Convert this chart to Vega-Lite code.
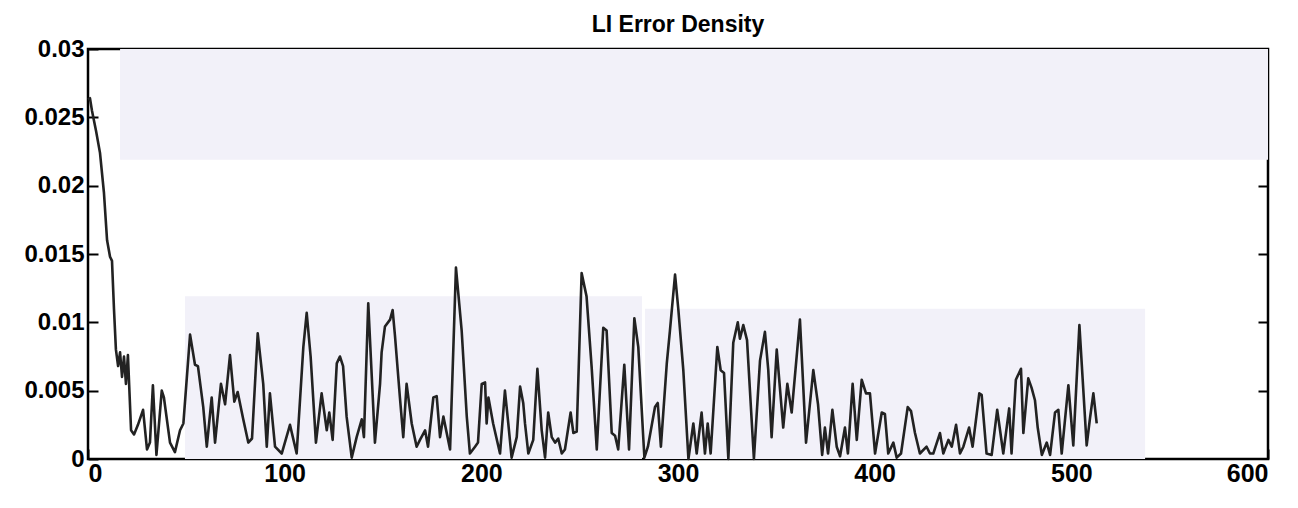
{
  "$schema": "https://vega.github.io/schema/vega-lite/v6.json",
  "width": 1180,
  "height": 410,
  "autosize": "none",
  "padding": {"left": 88, "top": 49, "right": 30, "bottom": 49},
  "background": "white",
  "title": {"text": "LI Error Density", "font": "Liberation Sans", "fontSize": 23, "fontWeight": "bold", "color": "black", "anchor": "middle", "offset": 0},
  "datasets": {
    "shade": [
      {"x0": 16.3, "x1": 600, "y0": 0.0219, "y1": 0.0302},
      {"x0": 49.3, "x1": 281.7, "y0": 0, "y1": 0.0119},
      {"x0": 283.2, "x1": 537.5, "y0": 0, "y1": 0.011}
    ],
    "curve": [
      {"t": 0.0, "err": 0.0263}, {"t": 1.0, "err": 0.0264}, {"t": 2.0, "err": 0.0255}, {"t": 4.1, "err": 0.024},
      {"t": 6.1, "err": 0.0224}, {"t": 8.1, "err": 0.0195}, {"t": 9.7, "err": 0.016}, {"t": 11.2, "err": 0.0148},
      {"t": 12.2, "err": 0.0145}, {"t": 13.2, "err": 0.011}, {"t": 14.2, "err": 0.008}, {"t": 15.3, "err": 0.0068},
      {"t": 16.3, "err": 0.0078}, {"t": 17.3, "err": 0.006}, {"t": 18.3, "err": 0.0075}, {"t": 19.3, "err": 0.0055},
      {"t": 20.3, "err": 0.0076}, {"t": 21.9, "err": 0.0021}, {"t": 23.4, "err": 0.0018}, {"t": 25.4, "err": 0.0025},
      {"t": 28.0, "err": 0.0036}, {"t": 30.0, "err": 0.0007}, {"t": 31.5, "err": 0.0012}, {"t": 33.0, "err": 0.0054},
      {"t": 34.8, "err": 0.0003}, {"t": 37.5, "err": 0.005}, {"t": 38.6, "err": 0.0045}, {"t": 41.7, "err": 0.0012},
      {"t": 44.2, "err": 0.0005}, {"t": 46.8, "err": 0.0021}, {"t": 48.5, "err": 0.0026}, {"t": 51.9, "err": 0.0091},
      {"t": 54.4, "err": 0.0069}, {"t": 55.9, "err": 0.0068}, {"t": 58.6, "err": 0.0038}, {"t": 60.4, "err": 0.0009},
      {"t": 62.9, "err": 0.0045}, {"t": 64.6, "err": 0.0012}, {"t": 67.6, "err": 0.0055}, {"t": 69.7, "err": 0.004},
      {"t": 72.2, "err": 0.0076}, {"t": 74.4, "err": 0.0042}, {"t": 76.1, "err": 0.0049}, {"t": 78.8, "err": 0.003},
      {"t": 81.5, "err": 0.0012}, {"t": 83.4, "err": 0.0015}, {"t": 86.3, "err": 0.0092}, {"t": 89.1, "err": 0.0055},
      {"t": 90.9, "err": 0.0009}, {"t": 92.5, "err": 0.0048}, {"t": 95.1, "err": 0.0009}, {"t": 98.5, "err": 0.0004},
      {"t": 102.7, "err": 0.0025}, {"t": 106.1, "err": 0.0004}, {"t": 109.5, "err": 0.0082}, {"t": 111.2, "err": 0.0107},
      {"t": 113.2, "err": 0.0075}, {"t": 115.9, "err": 0.0012}, {"t": 118.8, "err": 0.0048}, {"t": 121.4, "err": 0.0021},
      {"t": 122.7, "err": 0.0034}, {"t": 124.4, "err": 0.0014}, {"t": 126.5, "err": 0.007}, {"t": 128.1, "err": 0.0075},
      {"t": 129.7, "err": 0.0068}, {"t": 131.5, "err": 0.0031}, {"t": 134.1, "err": 0.0001}, {"t": 136.6, "err": 0.0016},
      {"t": 139.2, "err": 0.0029}, {"t": 140.3, "err": 0.0016}, {"t": 142.5, "err": 0.0114}, {"t": 145.9, "err": 0.0012},
      {"t": 148.5, "err": 0.0055}, {"t": 149.3, "err": 0.0078}, {"t": 151.0, "err": 0.0097}, {"t": 153.6, "err": 0.0102},
      {"t": 154.9, "err": 0.0109}, {"t": 156.1, "err": 0.009}, {"t": 158.6, "err": 0.0045}, {"t": 160.3, "err": 0.0016},
      {"t": 162.0, "err": 0.0055}, {"t": 164.6, "err": 0.0026}, {"t": 167.1, "err": 0.0009}, {"t": 168.8, "err": 0.0014},
      {"t": 171.4, "err": 0.0021}, {"t": 172.9, "err": 0.0009}, {"t": 175.6, "err": 0.0045}, {"t": 177.3, "err": 0.0046},
      {"t": 179.0, "err": 0.0016}, {"t": 180.7, "err": 0.0031}, {"t": 184.1, "err": 0.0007}, {"t": 187.1, "err": 0.014},
      {"t": 190.0, "err": 0.0094}, {"t": 192.6, "err": 0.0031}, {"t": 194.2, "err": 0.0004}, {"t": 196.8, "err": 0.0009},
      {"t": 198.3, "err": 0.0012}, {"t": 200.2, "err": 0.0055}, {"t": 201.9, "err": 0.0056}, {"t": 202.7, "err": 0.0026},
      {"t": 203.6, "err": 0.0045}, {"t": 206.0, "err": 0.0026}, {"t": 209.5, "err": 0.0004}, {"t": 212.0, "err": 0.005},
      {"t": 213.7, "err": 0.0026}, {"t": 215.4, "err": 0.0001}, {"t": 218.0, "err": 0.0016}, {"t": 219.7, "err": 0.0053},
      {"t": 221.3, "err": 0.0041}, {"t": 222.2, "err": 0.0026}, {"t": 223.9, "err": 0.0004}, {"t": 226.4, "err": 0.0014},
      {"t": 228.5, "err": 0.0066}, {"t": 230.7, "err": 0.0021}, {"t": 232.4, "err": 0.0001}, {"t": 234.0, "err": 0.0034},
      {"t": 235.8, "err": 0.0016}, {"t": 237.5, "err": 0.0012}, {"t": 239.1, "err": 0.0015}, {"t": 240.9, "err": 0.0004},
      {"t": 242.5, "err": 0.0007}, {"t": 245.4, "err": 0.0034}, {"t": 246.8, "err": 0.0019}, {"t": 248.5, "err": 0.002},
      {"t": 251.0, "err": 0.0136}, {"t": 253.5, "err": 0.0119}, {"t": 256.1, "err": 0.0067}, {"t": 258.7, "err": 0.0007},
      {"t": 262.0, "err": 0.0096}, {"t": 263.7, "err": 0.0094}, {"t": 266.3, "err": 0.0019}, {"t": 268.0, "err": 0.0017},
      {"t": 269.6, "err": 0.0007}, {"t": 272.7, "err": 0.0069}, {"t": 275.1, "err": 0.0007}, {"t": 277.8, "err": 0.0103},
      {"t": 279.8, "err": 0.0082}, {"t": 282.9, "err": 0.0001}, {"t": 284.7, "err": 0.0009}, {"t": 288.3, "err": 0.0038},
      {"t": 289.7, "err": 0.0041}, {"t": 291.3, "err": 0.0009}, {"t": 294.3, "err": 0.007}, {"t": 295.9, "err": 0.0094},
      {"t": 298.5, "err": 0.0135}, {"t": 300.2, "err": 0.0109}, {"t": 302.7, "err": 0.0065}, {"t": 305.3, "err": 0.0},
      {"t": 307.8, "err": 0.0026}, {"t": 309.5, "err": 0.0004}, {"t": 312.0, "err": 0.0034}, {"t": 313.7, "err": 0.0004},
      {"t": 315.1, "err": 0.0026}, {"t": 316.6, "err": 0.0004}, {"t": 320.0, "err": 0.0082}, {"t": 321.7, "err": 0.0065},
      {"t": 323.4, "err": 0.0063}, {"t": 325.6, "err": 0.0}, {"t": 328.1, "err": 0.0085}, {"t": 330.4, "err": 0.01},
      {"t": 331.5, "err": 0.0088}, {"t": 333.2, "err": 0.0098}, {"t": 335.1, "err": 0.0087}, {"t": 338.6, "err": 0.0},
      {"t": 341.7, "err": 0.0072}, {"t": 344.2, "err": 0.0093}, {"t": 345.9, "err": 0.0065}, {"t": 347.6, "err": 0.0016},
      {"t": 350.2, "err": 0.008}, {"t": 353.5, "err": 0.0023}, {"t": 355.6, "err": 0.0055}, {"t": 357.8, "err": 0.0034},
      {"t": 362.0, "err": 0.0102}, {"t": 365.1, "err": 0.0012}, {"t": 368.8, "err": 0.0065}, {"t": 371.2, "err": 0.004},
      {"t": 373.3, "err": 0.0003}, {"t": 374.7, "err": 0.0023}, {"t": 376.3, "err": 0.0004}, {"t": 378.5, "err": 0.0036},
      {"t": 380.7, "err": 0.0009}, {"t": 382.4, "err": 0.0002}, {"t": 384.9, "err": 0.0023}, {"t": 386.4, "err": 0.0004},
      {"t": 388.8, "err": 0.0055}, {"t": 390.9, "err": 0.0014}, {"t": 393.4, "err": 0.0058}, {"t": 395.6, "err": 0.0048},
      {"t": 397.6, "err": 0.0048}, {"t": 400.2, "err": 0.0004}, {"t": 403.6, "err": 0.0034}, {"t": 405.2, "err": 0.0033},
      {"t": 406.9, "err": 0.0004}, {"t": 409.5, "err": 0.0012}, {"t": 411.2, "err": 0.0001}, {"t": 413.4, "err": 0.0004},
      {"t": 416.8, "err": 0.0038}, {"t": 418.5, "err": 0.0035}, {"t": 420.5, "err": 0.0019}, {"t": 423.0, "err": 0.0004},
      {"t": 426.4, "err": 0.0009}, {"t": 428.1, "err": 0.0004}, {"t": 429.8, "err": 0.0004}, {"t": 433.2, "err": 0.0019},
      {"t": 434.9, "err": 0.0004}, {"t": 437.5, "err": 0.0014}, {"t": 439.2, "err": 0.0009}, {"t": 441.4, "err": 0.0025},
      {"t": 443.4, "err": 0.0004}, {"t": 445.1, "err": 0.0009}, {"t": 448.0, "err": 0.0023}, {"t": 449.8, "err": 0.0009},
      {"t": 453.2, "err": 0.0048}, {"t": 454.4, "err": 0.0047}, {"t": 456.9, "err": 0.0004}, {"t": 459.5, "err": 0.0003},
      {"t": 462.3, "err": 0.0036}, {"t": 465.4, "err": 0.0004}, {"t": 468.4, "err": 0.0037}, {"t": 469.6, "err": 0.0004},
      {"t": 471.8, "err": 0.0058}, {"t": 474.4, "err": 0.0066}, {"t": 475.6, "err": 0.0019}, {"t": 478.1, "err": 0.0059},
      {"t": 479.8, "err": 0.0052}, {"t": 481.5, "err": 0.0043}, {"t": 482.9, "err": 0.0023}, {"t": 485.0, "err": 0.0003},
      {"t": 487.5, "err": 0.0012}, {"t": 489.2, "err": 0.0003}, {"t": 491.7, "err": 0.0034}, {"t": 493.4, "err": 0.0036},
      {"t": 495.1, "err": 0.0004}, {"t": 498.5, "err": 0.0054}, {"t": 501.0, "err": 0.001}, {"t": 504.1, "err": 0.0098},
      {"t": 507.8, "err": 0.001}, {"t": 509.5, "err": 0.003}, {"t": 511.2, "err": 0.0048}, {"t": 512.9, "err": 0.0026}
    ]
  },
  "layer": [
    {
      "data": {"name": "shade"},
      "mark": {"type": "rect", "color": "#f2f1f9", "clip": true},
      "encoding": {
        "x": {"field": "x0", "type": "quantitative", "scale": {"domain": [0, 600], "nice": false, "zero": false},
              "axis": {"orient": "bottom", "title": null, "values": [0, 100, 200, 300, 400, 500, 600], "grid": false, "domain": false,
                       "tickSize": -10, "tickWidth": 2, "tickColor": "black", "labelPadding": 12,
                       "labelFont": "Liberation Sans", "labelFontSize": 25, "labelFontWeight": "bold", "labelColor": "black"}},
        "x2": {"field": "x1"},
        "y": {"field": "y0", "type": "quantitative", "scale": {"domain": [0, 0.03], "nice": false},
              "axis": {"orient": "left", "title": null, "values": [0, 0.005, 0.01, 0.015, 0.02, 0.025, 0.03], "format": "~g", "grid": false, "domain": false,
                       "tickSize": -10, "tickWidth": 2, "tickColor": "black", "labelPadding": 14,
                       "labelFont": "Liberation Sans", "labelFontSize": 24, "labelFontWeight": "bold", "labelColor": "black"}},
        "y2": {"field": "y1"}
      }
    },
    {
      "data": {"name": "curve"},
      "mark": {"type": "line", "color": "#222222", "strokeWidth": 2.6, "strokeJoin": "round"},
      "encoding": {
        "x": {"field": "t", "type": "quantitative",
              "axis": {"orient": "top", "title": null, "values": [100, 200, 300, 400, 500], "labels": false, "grid": false, "domain": false,
                       "tickSize": -10, "tickWidth": 2, "tickColor": "black"}},
        "y": {"field": "err", "type": "quantitative",
              "axis": {"orient": "right", "title": null, "values": [0.005, 0.01, 0.015, 0.02, 0.025], "labels": false, "grid": false, "domain": false,
                       "tickSize": -10, "tickWidth": 2, "tickColor": "black"}}
      }
    }
  ],
  "resolve": {"axis": {"x": "independent", "y": "independent"}},
  "config": {
    "view": {"stroke": "black", "strokeWidth": 2.5}
  }
}
